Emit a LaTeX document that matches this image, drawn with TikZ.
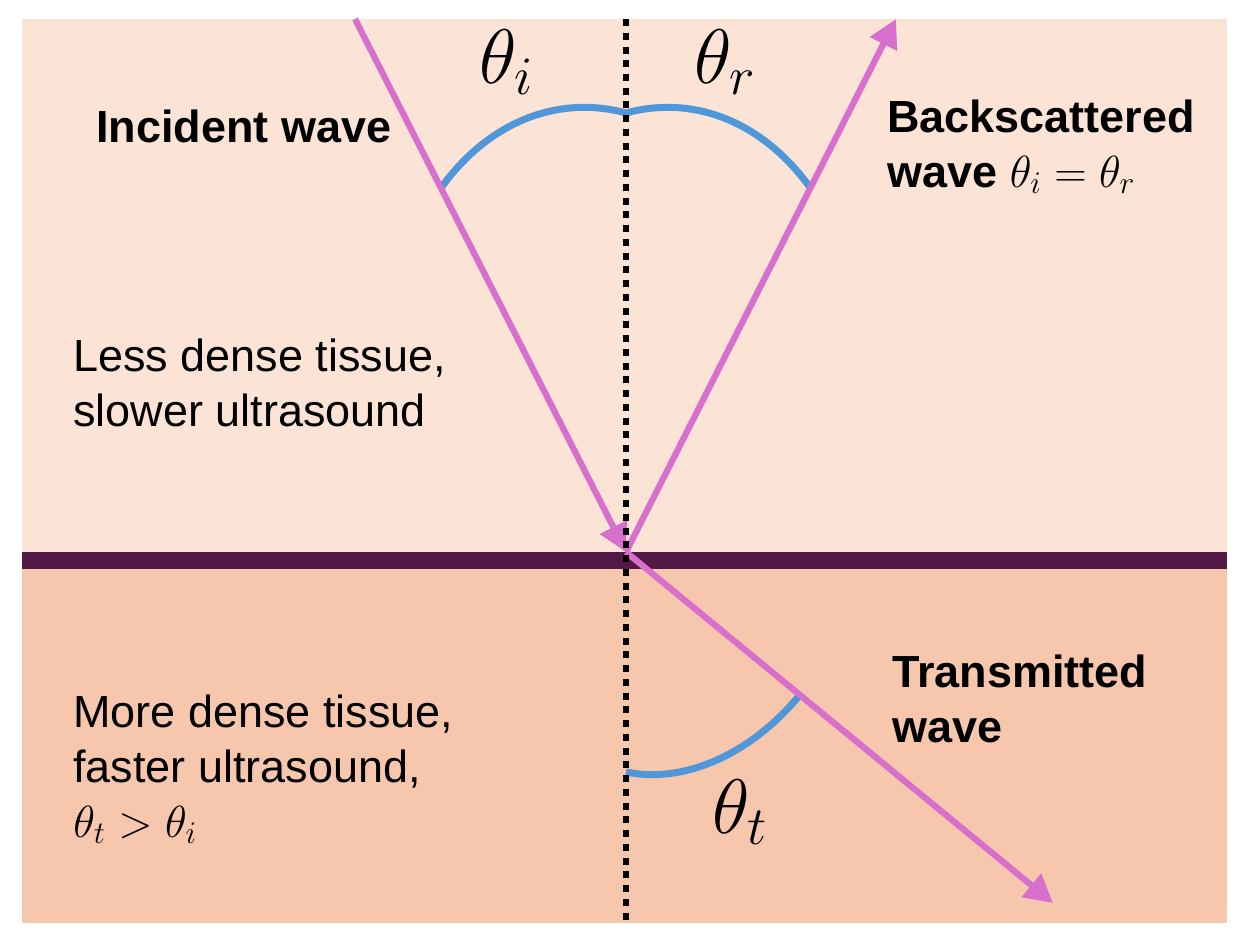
\RequirePackage{fix-cm}
\documentclass[tikz,border=0pt]{standalone}
\usepackage{fontspec}
\setmainfont{Liberation Sans}
\usetikzlibrary{arrows.meta,calc}

\definecolor{upperbg}{HTML}{FBE3D6}
\definecolor{lowerbg}{HTML}{F6C6AD}
\definecolor{boundary}{HTML}{511848}
\definecolor{raycol}{HTML}{D670CC}
\definecolor{arccol}{HTML}{4F97D8}

\begin{document}
\begin{tikzpicture}[x=0.02cm, y=-0.02cm]
    \tikzstyle{wave}=[draw=raycol, line width=0.125cm, -{Triangle[length=0.56cm, width=0.58cm]}]
    \tikzstyle{anglemark}=[draw=arccol, line width=0.14cm]
    \tikzstyle{normal}=[draw=black, line width=0.12cm, dash pattern=on 0.14cm off 0.135cm]
    \tikzstyle{txt}=[anchor=base west, inner sep=0pt, align=left, font=\fontsize{25.6}{31.3}\selectfont]
    \tikzstyle{boldtxt}=[txt, font=\fontsize{25.6}{31.3}\selectfont\bfseries]
    \tikzstyle{bigangle}=[anchor=base west, inner sep=0pt, font=\fontsize{44}{52}\selectfont]

    \useasboundingbox (0,0) rectangle (1248,941);
    \fill[upperbg] (22,19) rectangle (1227,552);
    \fill[lowerbg] (22,569) rectangle (1227,923);
    \fill[boundary] (22,552) rectangle (1227,569);

    \coordinate (O) at (626,552);
    \coordinate (src) at (355,19);
    \coordinate (back) at (896,19);
    \coordinate (through) at (1053,903);
    \coordinate (ntop) at (626,19);
    \coordinate (nbot) at (626,923);
    \coordinate (apex) at (626,113);
    \coordinate (ai) at ($(O)!0.683!(src)$);
    \coordinate (ar) at ($(O)!0.683!(back)$);
    \coordinate (at) at ($(O)!0.407!(through)$);
    \coordinate (tstart) at (626,772);

    \draw[anglemark] (ai) .. controls +(49,-68) and +(-66,-18) .. (apex)
                          .. controls +(66,-18) and +(-49,-68) .. (ar);
    \draw[anglemark] (tstart) .. controls +(64,13) and +(-43,53) .. (at);

    \draw[wave] (src) -- (O);
    \draw[wave] (O) -- (back);
    \draw[wave] (O) -- (through);
    \draw[normal] (ntop) -- (nbot);

    \node (thi) [bigangle] at (479,83) {$\theta_i$};
    \node (thr) [bigangle] at (694,83) {$\theta_r$};
    \node (tht) [bigangle] at (712,833) {$\theta_t$};

    \node (incident) [boldtxt] at (96,142) {Incident wave};
    \node (backscat) [boldtxt] at (887,187) {Backscattered\\wave {\mdseries$\theta_i=\theta_r$}};
    \node (less) [txt] at (73,426) {Less dense tissue,\\slower ultrasound};
    \node (more) [txt] at (73,837) {More dense tissue,\\faster ultrasound,\\$\theta_t>\theta_i$};
    \node (transm) [boldtxt] at (892,742) {Transmitted\\wave};
\end{tikzpicture}
\end{document}
